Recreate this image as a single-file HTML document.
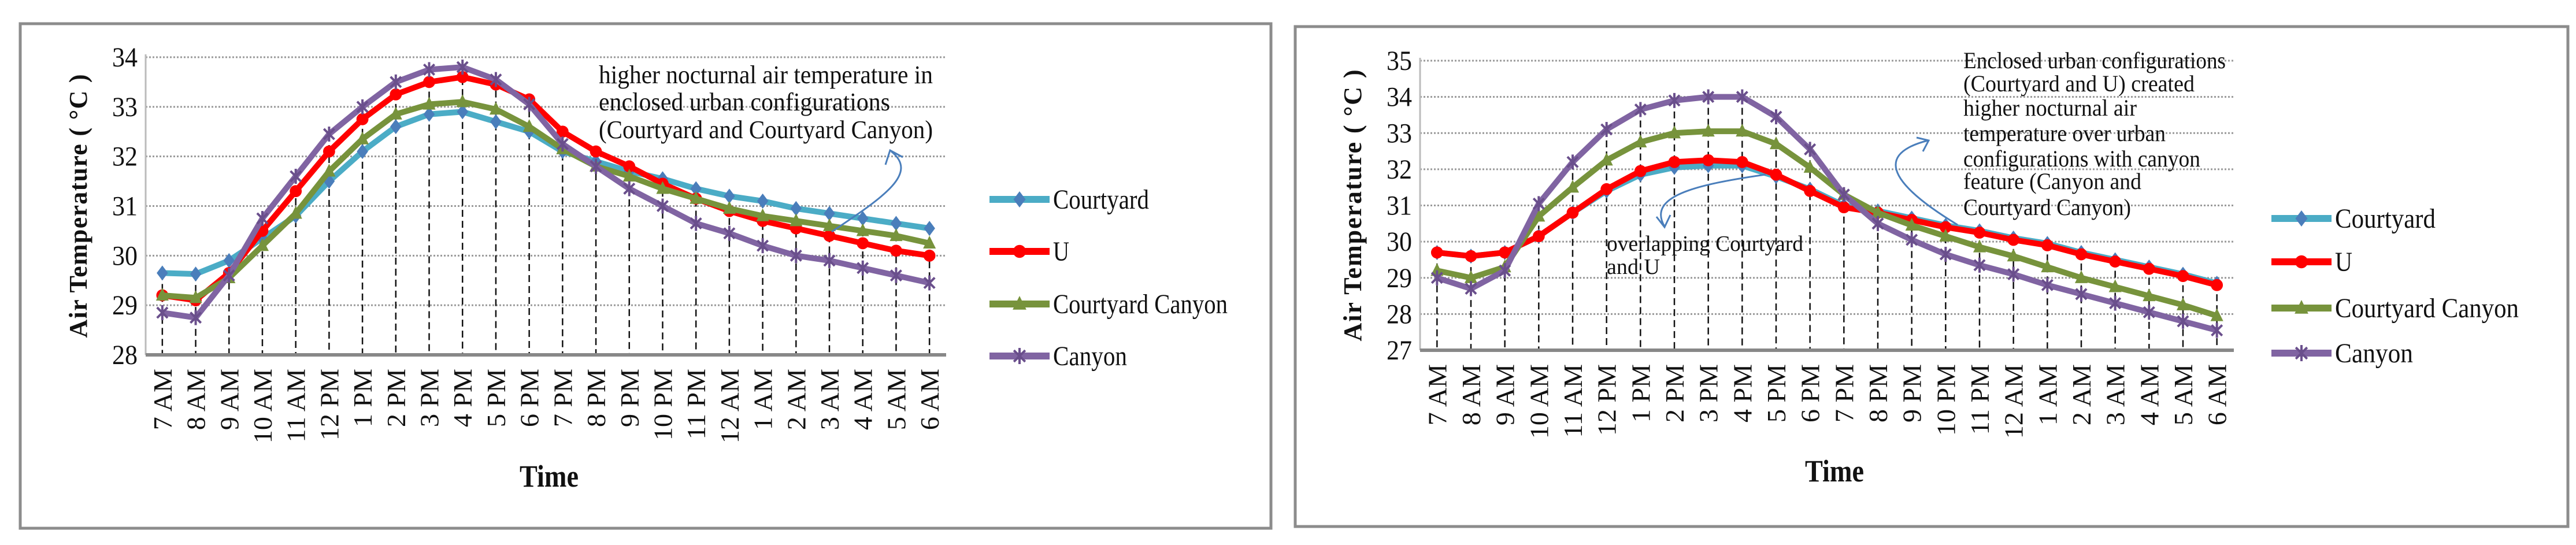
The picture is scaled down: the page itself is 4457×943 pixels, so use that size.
<!DOCTYPE html>
<html><head><meta charset="utf-8">
<style>
html,body{margin:0;padding:0;background:#fff;}
svg{display:block;font-family:"Liberation Serif",serif;}
</style></head>
<body>
<svg id="root" width="4457" height="943" viewBox="0 0 4457 943" xmlns="http://www.w3.org/2000/svg"></svg>
<script>
const categories = ["7 AM","8 AM","9 AM","10 AM","11 AM","12 PM","1 PM","2 PM","3 PM","4 PM","5 PM","6 PM","7 PM","8 PM","9 PM","10 PM","11 PM","12 AM","1 AM","2 AM","3 AM","4 AM","5 AM","6 AM"];
const seriesNames = ["Courtyard","U","Courtyard Canyon","Canyon"];
// Left chart
const leftCourtyard = [29.65,29.63,29.9,30.35,30.8,31.5,32.1,32.6,32.85,32.9,32.7,32.5,32.1,31.9,31.7,31.55,31.35,31.2,31.1,30.95,30.85,30.75,30.65,30.55];
const leftU = [29.2,29.1,29.65,30.5,31.3,32.1,32.75,33.25,33.5,33.6,33.45,33.15,32.5,32.1,31.8,31.45,31.15,30.9,30.7,30.55,30.4,30.25,30.1,30.0];
const leftCourtyardCanyon = [29.2,29.15,29.55,30.2,30.85,31.7,32.35,32.85,33.05,33.1,32.95,32.6,32.15,31.8,31.6,31.35,31.15,30.95,30.8,30.7,30.6,30.5,30.4,30.25];
const leftCanyon = [28.85,28.75,29.6,30.75,31.6,32.45,33.0,33.5,33.75,33.8,33.55,33.05,32.25,31.8,31.35,31.0,30.65,30.45,30.2,30.0,29.9,29.75,29.6,29.45];
const leftTicks = [28,29,30,31,32,33,34];
// Right chart
const rightCourtyard = [29.7,29.6,29.7,30.15,30.8,31.4,31.85,32.05,32.1,32.1,31.8,31.45,31.0,30.85,30.65,30.45,30.3,30.1,29.95,29.7,29.5,29.3,29.1,28.85];
const rightU = [29.7,29.6,29.7,30.15,30.8,31.45,31.95,32.2,32.25,32.2,31.85,31.4,30.95,30.8,30.6,30.4,30.25,30.05,29.9,29.65,29.45,29.25,29.05,28.8];
const rightCourtyardCanyon = [29.2,29.0,29.3,30.7,31.5,32.25,32.75,33.0,33.05,33.05,32.7,32.05,31.3,30.8,30.45,30.15,29.85,29.6,29.3,29.0,28.75,28.5,28.25,27.95];
const rightCanyon = [29.0,28.7,29.2,31.05,32.2,33.1,33.65,33.9,34.0,34.0,33.45,32.55,31.3,30.5,30.05,29.65,29.35,29.1,28.8,28.55,28.3,28.05,27.8,27.55];
const rightTicks = [27,28,29,30,31,32,33,34,35];

const NS = "http://www.w3.org/2000/svg";
const root = document.getElementById("root");
function mk(tag, attrs, parent){
  const e = document.createElementNS(NS, tag);
  for (const k in attrs) e.setAttribute(k, attrs[k]);
  (parent||root).appendChild(e);
  return e;
}
const colors = ["#4bacc6","#ff0000","#77933c","#8064a2"];
const markerColors = ["#4a7ebb","#ff0000","#77933c","#8064a2"];

function marker(g, type, x, y, s){
  let m;
  if (type===0){ m = mk("polygon",{points:`${x},${y-s} ${x+s*0.75},${y} ${x},${y+s} ${x-s*0.75},${y}`,fill:markerColors[0]},g); }
  else if (type===1){ m = mk("circle",{cx:x,cy:y,r:s*0.8,fill:"#ff0000"},g); }
  else if (type===2){ m = mk("polygon",{points:`${x},${y-s} ${x+s*0.85},${y+s*0.7} ${x-s*0.85},${y+s*0.7}`,fill:"#77933c"},g); }
  else { m = mk("path",{d:`M${x-s*0.7},${y-s*0.7}L${x+s*0.7},${y+s*0.7}M${x-s*0.7},${y+s*0.7}L${x+s*0.7},${y-s*0.7}M${x},${y-s}L${x},${y+s}`,stroke:"#6a4f8c","stroke-width":4,fill:"none"},g); }
  return m;
}

function drawChart(cfg, data, ticks){
  const g = mk("g",{});
  
  
  const border = mk("rect",{x:cfg.bx,y:cfg.by,width:cfg.bw,height:cfg.bh,fill:"#fff",stroke:"#8c8c8c","stroke-width":5},g);
  
  
  const vmin = ticks[0], vmax = ticks[ticks.length-1];
  const yS = v => cfg.y1 + (vmax - v)/(vmax - vmin)*(cfg.y0 - cfg.y1);
  const step = (cfg.x1 - cfg.x0)/categories.length;
  const xS = i => cfg.x0 + step*(i+0.5);
  ticks.forEach(t=>{
    const y = yS(t);
    if (t!==vmin){
      const gl = mk("line",{x1:cfg.x0,x2:cfg.x1,y1:y,y2:y,stroke:"#9a9a9a","stroke-width":3,"stroke-dasharray":"3,3"},g);
      
      
    }
    const tl = mk("text",{x:cfg.x0-14,y:y+16,"text-anchor":"end","font-size":48,fill:"#111",textLength:44,lengthAdjust:"spacingAndGlyphs"},g);
    tl.textContent = t;
    
    
  });
  const ya = mk("line",{x1:cfg.x0,x2:cfg.x0,y1:cfg.y1-5,y2:cfg.y0,stroke:"#bbb","stroke-width":3},g);
  
  
  categories.forEach((c,i)=>{
    const top = Math.min(...data.map(s=>yS(s[i])));
    const dl = mk("line",{x1:xS(i),x2:xS(i),y1:top,y2:cfg.y0,stroke:"#111","stroke-width":2.5,"stroke-dasharray":"12,7"},g);
    
    
  });
  data.forEach((s,k)=>{
    const sg = mk("g",{},g);
    
    
    const pts = s.map((v,i)=>xS(i)+","+yS(v)).join(" ");
    const pl = mk("polyline",{points:pts,fill:"none",stroke:colors[k],"stroke-width":10,"stroke-linejoin":"round"},sg);
    
    
    s.forEach((v,i)=>{
      const m = marker(sg,k,xS(i),yS(v),13);
      
      
    });
  });
  const xa = mk("line",{x1:cfg.x0,x2:cfg.x1,y1:cfg.y0,y2:cfg.y0,stroke:"#888","stroke-width":6},g);
  
  
  categories.forEach((c,i)=>{
    const x = xS(i);
    const t = mk("text",{x:0,y:0,transform:`translate(${x+16},${cfg.y0+24}) rotate(-90)`,"text-anchor":"end","font-size":46,fill:"#111"},g);
    t.textContent = c;
    
    
  });
  const yt = mk("text",{x:0,y:0,transform:`translate(${cfg.ytx},${(cfg.y0+cfg.y1)/2}) rotate(-90)`,"text-anchor":"middle","font-size":44,"font-weight":"bold",textLength:cfg.ytl,lengthAdjust:"spacing",fill:"#111"},g);
  yt.textContent = "Air Temperature ( °C )";
  
  
  const xt = mk("text",{x:cfg.xtx,y:cfg.xty,"text-anchor":"middle","font-size":54,"font-weight":"bold",fill:"#111",textLength:102,lengthAdjust:"spacingAndGlyphs"},g);
  xt.textContent = "Time";
  
  
  cfg.legY.forEach((ly,k)=>{
    const lg = mk("g",{},g);
    
    
    mk("line",{x1:cfg.legX,x2:cfg.legX+104,y1:ly,y2:ly,stroke:colors[k],"stroke-width":12},lg);
    marker(lg,k,cfg.legX+52,ly,14);
    const lt = mk("text",{x:cfg.legX+110,y:ly+16,"font-size":48,fill:"#111",textLength:cfg.legLen[k],lengthAdjust:"spacingAndGlyphs"},lg);
    lt.textContent = seriesNames[k];
  });
  cfg.notes.forEach(n=>{
    const t = mk("text",{x:n.x,y:n.y,"font-size":n.fs,fill:"#111"},g);
    if (n.len) { t.setAttribute("textLength", n.len); t.setAttribute("lengthAdjust","spacingAndGlyphs"); }
    t.textContent = n.t;
    
    
  });
  cfg.arrows.forEach(a=>{
    const p = mk("path",{d:a.d,fill:"none",stroke:"#4a7ebb","stroke-width":3},g);
    
    
    const h = mk("path",{d:a.h,fill:"none",stroke:"#4a7ebb","stroke-width":3},g);
    
    
  });
}

drawChart({
  name:"left-chart", bx:35,by:41,bw:2164,bh:873,
  x0:252,x1:1637,y0:614,y1:99,
  ytx:150, ytl:456, xtx:950, xty:842,
  legX:1712, legY:[345,435,526,616], legLen:[166,28,302,128],
  notes:[
    {x:1036,y:144,t:"higher nocturnal air temperature in",fs:44,len:578},
    {x:1036,y:191,t:"enclosed urban configurations",fs:44,len:504},
    {x:1036,y:239,t:"(Courtyard and  Courtyard Canyon)",fs:44,len:578}
  ],
  arrows:[{d:"M1439,401 C1530,340 1590,300 1542,262",h:"M1532,285 L1540,260 L1562,272"}]
},[leftCourtyard,leftU,leftCourtyardCanyon,leftCanyon],leftTicks);

drawChart({
  name:"right-chart", bx:2241,by:46,bw:2202,bh:865,
  x0:2457,x1:3865,y0:606,y1:105,
  ytx:2355, ytl:470, xtx:3174, xty:833,
  legX:3930, legY:[378,453,533,611], legLen:[174,30,318,135],
  notes:[
    {x:3397,y:118,t:"Enclosed urban configurations",fs:40,len:454},
    {x:3397,y:158,t:"(Courtyard and U) created",fs:40,len:400},
    {x:3397,y:200,t:"higher nocturnal air",fs:40,len:300},
    {x:3397,y:244,t:"temperature over urban",fs:40,len:350},
    {x:3397,y:288,t:"configurations  with canyon",fs:40,len:410},
    {x:3397,y:327,t:"feature (Canyon and",fs:40,len:308},
    {x:3397,y:372,t:"Courtyard Canyon)",fs:40,len:290},
    {x:2780,y:434,t:"overlapping Courtyard",fs:38,len:340},
    {x:2780,y:474,t:"and U",fs:38,len:92}
  ],
  arrows:[
    {d:"M3055,302 C2930,320 2850,340 2880,392",h:"M2866,375 L2880,393 L2890,372"},
    {d:"M3387,389 C3290,330 3230,270 3336,243",h:"M3316,238 L3337,243 L3327,262"}
  ]
},[rightCourtyard,rightU,rightCourtyardCanyon,rightCanyon],rightTicks);
</script>
</body></html>
